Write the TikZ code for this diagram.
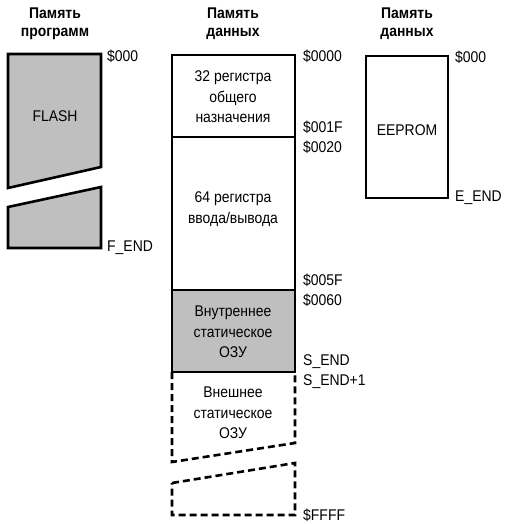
\documentclass[tikz,border=0pt]{standalone}
\usepackage{fontspec}
\setmainfont[FakeStretch=0.9]{Liberation Sans}
\begin{document}
\begin{tikzpicture}[x=1pt,y=-1pt,
  lbl/.style={font=\fontsize{15.5}{20.5}\selectfont, inner sep=0pt},
  addr/.style={lbl, anchor=west},
  hdr/.style={font=\bfseries\fontsize{15.5}{18}\selectfont, align=center, inner sep=0pt},
  txt/.style={lbl, align=center},
  box/.style={draw=black, line width=2.6pt, line join=miter},
  shaded/.style={box, fill=gray!50},
  dbox/.style={draw=black, line width=2.6pt, dash pattern=on 7pt off 4pt}
]
\useasboundingbox (0,0) rectangle (507,524);
% headers
\node[hdr] (h1) at (55,24) {Память\\программ};
\node[hdr] (h2) at (233,24) {Память\\данных};
\node[hdr] (h3) at (407,24) {Память\\данных};
% program memory
\filldraw[shaded] (8,54) -- (101,54) -- (101,167) -- (8,188) -- cycle;
\filldraw[shaded] (8,207) -- (101,187) -- (101,248) -- (8,248) -- cycle;
\node[txt] (flash) at (55,116) {FLASH};
\node[addr] (a1) at (107,56) {\$000};
\node[addr] (a2) at (107,248) {F\_END};
% data memory
\draw[box] (172,55) rectangle (295,290);
\draw[line width=1.4pt] (172,137) -- (295,137);
\filldraw[shaded] (172,290) rectangle (295,372);
\draw[dbox] (172,372) -- (172,462) -- (295,443) -- (295,372);
\draw[dbox] (172,483) -- (295,463) -- (295,515) -- (172,515) -- cycle;
\node[txt] (r32) at (233,97) {32 регистра\\общего\\назначения};
\node[txt] (r64) at (233,209) {64 регистра\\ввода/вывода};
\node[txt] (isram) at (233,332) {Внутреннее\\статическое\\ОЗУ};
\node[txt] (esram) at (233,413) {Внешнее\\статическое\\ОЗУ};
\node[addr] (b1) at (303,56) {\$0000};
\node[addr] (b2) at (303,127) {\$001F};
\node[addr] (b3) at (303,147) {\$0020};
\node[addr] (b4) at (303,280) {\$005F};
\node[addr] (b5) at (303,300) {\$0060};
\node[addr] (b6) at (303,362) {S\_END};
\node[addr] (b7) at (303,382) {S\_END+1};
\node[addr] (b8) at (303,515) {\$FFFF};
% EEPROM
\draw[box] (366,56) rectangle (448,198);
\node[txt] (ee) at (407,130) {EEPROM};
\node[addr] (c1) at (455,57) {\$000};
\node[addr] (c2) at (455,198) {E\_END};
\end{tikzpicture}
\end{document}
